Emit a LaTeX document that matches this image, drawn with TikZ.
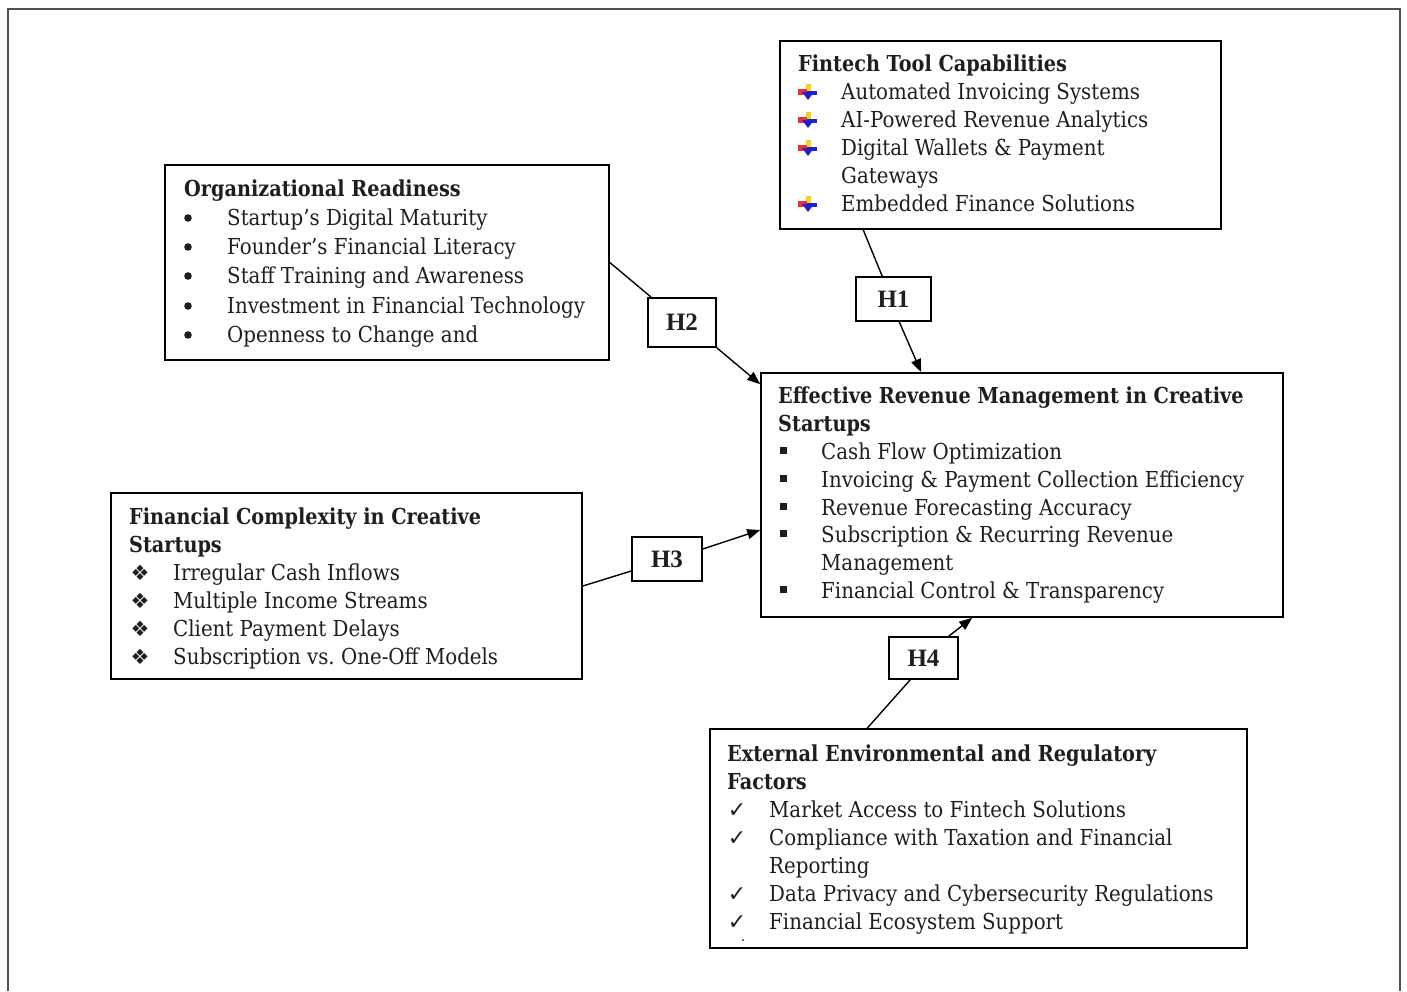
\documentclass[tikz,border=0pt]{standalone}
\usepackage{fontspec}
\setmainfont{DejaVu Serif}[FakeStretch=0.90, BoldFeatures={FakeStretch=0.875}]
\newfontfamily\symfont{DejaVu Sans}
\newfontfamily\hfont{Liberation Serif}
\usetikzlibrary{arrows.meta}
\definecolor{ink}{HTML}{1E1E1E}
\definecolor{frame}{HTML}{505050}
\definecolor{bred}{HTML}{E8303A}
\definecolor{byel}{HTML}{F5D020}
\definecolor{bblue}{HTML}{2020C8}
\frenchspacing
\begin{document}
\begin{tikzpicture}[x=1pt,y=-1pt,
  box/.style={draw=black, line width=1.6pt, inner sep=0pt},
  hbox/.style={draw=black, line width=1.6pt, inner sep=0pt, font=\hfont\bfseries\fontsize{25}{28}\selectfont, text=ink},
  txt/.style={anchor=base west, inner sep=0pt, font=\fontsize{22}{26}\selectfont, text=ink},
  ttl/.style={anchor=base west, inner sep=0pt, font=\fontsize{22}{26}\selectfont\bfseries, text=ink},
  dia/.style={anchor=base, inner sep=0pt, font=\symfont\fontsize{21}{24}\selectfont, text=ink},
  chk/.style={anchor=base, inner sep=0pt, font=\symfont\fontsize{22}{24}\selectfont, text=ink},
  link/.style={draw=black, line width=1.4pt},
  arr/.style={link, -{Triangle[length=13pt,width=10pt]}},
  fbullet/.pic={
    \fill[byel] (-2.5,-15) rectangle (2.5,-7);
    \fill[bred] (-10,-10) rectangle (-1,-4);
    \fill[bblue] (-1,-8.5) rectangle (9,-4.5);
    \fill[bblue] (-6,-7) -- (6,-7) -- (0,1) -- cycle;
  }
]
\useasboundingbox (0,0) rectangle (1407,991);
\draw[frame, line width=1.2pt] (8,991) -- (8,9) -- (1400,9) -- (1400,991);

% boxes
\node[box, minimum width=441pt, minimum height=188pt] (fin) at (1000.5,135) {};
\node[box, minimum width=444pt, minimum height=195pt] (org) at (387,262.5) {};
\node[box, minimum width=471pt, minimum height=186pt] (fc) at (346.5,586) {};
\node[box, minimum width=522pt, minimum height=244pt] (eff) at (1022,495) {};
\node[box, minimum width=537pt, minimum height=219pt] (ext) at (978.5,838.5) {};
\node[hbox, minimum width=75pt, minimum height=44pt] (h1) at (893.5,299) {H1};
\node[hbox, minimum width=68pt, minimum height=49pt] (h2) at (682,322.5) {H2};
\node[hbox, minimum width=70pt, minimum height=44pt] (h3) at (667,559) {H3};
\node[hbox, minimum width=69pt, minimum height=42pt] (h4) at (923.5,658) {H4};

% Fintech
\node[ttl] (fint) at (798,71) {Fintech Tool Capabilities};
\node[txt] (fi1) at (841,99) {Automated Invoicing Systems};
\node[txt] (fi2) at (841,127) {AI-Powered Revenue Analytics};
\node[txt] (fi3) at (841,155) {Digital Wallets \& Payment};
\node[txt] (fi3b) at (841,183) {Gateways};
\node[txt] (fi4) at (841,211) {Embedded Finance Solutions};
\pic at (808,99) {fbullet};
\pic at (808,127) {fbullet};
\pic at (808,155) {fbullet};
\pic at (808,211) {fbullet};

% Organizational
\node[ttl] (orgt) at (184,196) {Organizational Readiness};
\node[txt] (o1) at (227,225) {Startup's Digital Maturity};
\node[txt] (o2) at (227,254) {Founder's Financial Literacy};
\node[txt] (o3) at (227,283) {Staff Training and Awareness};
\node[txt] (o4) at (227,313) {Investment in Financial Technology};
\node[txt] (o5) at (227,342) {Openness to Change and};
\foreach \b in {225,254,283,313,342} \fill[ink] (188,\b-7) circle (3.8);

% Financial complexity
\node[ttl] (fct) at (129,524) {Financial Complexity in Creative};
\node[ttl] (fct2) at (129,552) {Startups};
\node[txt] (c1) at (173,580) {Irregular Cash Inflows};
\node[txt] (c2) at (173,608) {Multiple Income Streams};
\node[txt] (c3) at (173,636) {Client Payment Delays};
\node[txt] (c4) at (173,664) {Subscription vs. One-Off Models};
\foreach \b in {580,608,636,664} \node[dia] at (140,\b) {❖};

% Effective
\node[ttl] (efft) at (778,403) {Effective Revenue Management in Creative};
\node[ttl] (efft2) at (778,431) {Startups};
\node[txt] (e1) at (821,459) {Cash Flow Optimization};
\node[txt] (e2) at (821,487) {Invoicing \& Payment Collection Efficiency};
\node[txt] (e3) at (821,515) {Revenue Forecasting Accuracy};
\node[txt] (e4) at (821,542) {Subscription \& Recurring Revenue};
\node[txt] (e4b) at (821,570) {Management};
\node[txt] (e5) at (821,598) {Financial Control \& Transparency};
\foreach \b in {459,487,515,542,598} \fill[ink] (779.5,\b-12.5) rectangle (786.5,\b-5.5);

% External
\node[ttl] (extt) at (727,761) {External Environmental and Regulatory};
\node[ttl] (extt2) at (727,789) {Factors};
\node[txt] (x1) at (769,817) {Market Access to Fintech Solutions};
\node[txt] (x2) at (769,845) {Compliance with Taxation and Financial};
\node[txt] (x2b) at (769,873) {Reporting};
\node[txt] (x3) at (769,901) {Data Privacy and Cybersecurity Regulations};
\node[txt] (x4) at (769,929) {Financial Ecosystem Support};
\foreach \b in {817,845,901,929} \node[chk] at (737,\b) {✓};
\fill[ink] (743,940) circle (1);

% connectors
\draw[link] ([xshift=84pt]fin.south west) -- ([xshift=27pt]h1.north west);
\draw[arr] ([xshift=44pt]h1.south west) -- ([xshift=161pt]eff.north west);
\draw[link] (org.east) -- ([xshift=4pt]h2.north west);
\draw[arr] (h2.south east) -- ([yshift=-12pt]eff.north west);
\draw[link] (fc.east) -- ([yshift=-12pt]h3.west);
\draw[arr] ([yshift=10pt]h3.east) -- ([yshift=-35pt]eff.west);
\draw[link] ([xshift=158pt]ext.north west) -- ([xshift=22pt]h4.south west);
\draw[arr] ([xshift=-10pt]h4.north east) -- ([xshift=212pt]eff.south west);
\end{tikzpicture}
\end{document}
